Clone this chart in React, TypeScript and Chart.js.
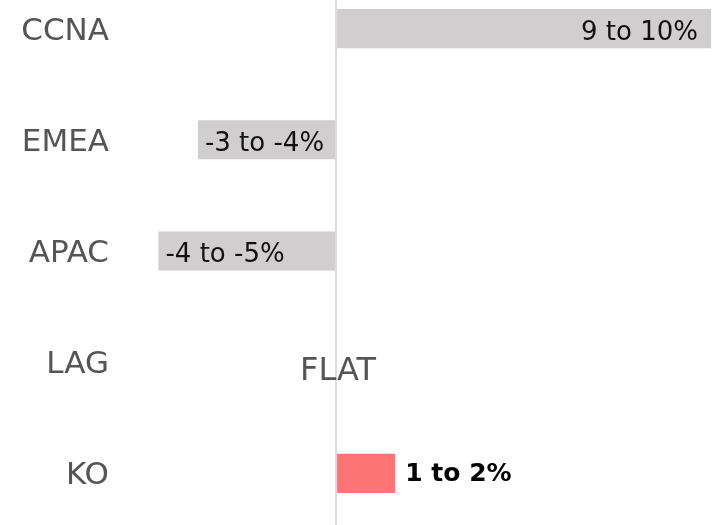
import React, { useEffect, useRef } from "react";
import { Chart, registerables } from "chart.js";

Chart.register(...registerables);

const categories = ["CCNA", "EMEA", "APAC", "LAG", "KO"];
const growthMid = [9.5, -3.5, -4.5, 0, 1.5];
const rangeLabels = ["9 to 10%", "-3 to -4%", "-4 to -5%", "FLAT", "1 to 2%"];
const barColors = ["#d0cecf", "#d0cecf", "#d0cecf", "#d0cecf", "#ff7474"];
const highlight = [false, false, false, false, true];
const axisMin = -5.5;
const axisMax = 9.5;

const FONT = "'DejaVu Sans', sans-serif";

const labelPlugin = {
  id: "rangeLabels",
  afterDatasetsDraw(chart: any) {
    const ctx = chart.ctx;
    const meta = chart.getDatasetMeta(0);
    ctx.save();
    meta.data.forEach((el: any, i: number) => {
      const v = growthMid[i];
      const text = rangeLabels[i];
      if (highlight[i]) {
        ctx.font = `bold 25px ${FONT}`;
        ctx.fillStyle = "#000000";
        ctx.textAlign = "left";
        ctx.textBaseline = "middle";
        ctx.fillText(text, el.x + 10, el.y + 1);
      } else if (v === 0) {
        ctx.font = `32px ${FONT}`;
        ctx.fillStyle = "#555555";
        ctx.textAlign = "center";
        ctx.textBaseline = "middle";
        ctx.fillText(text, el.x + 2, el.y + 9);
      } else if (v > 0) {
        ctx.font = `26px ${FONT}`;
        ctx.fillStyle = "#111111";
        ctx.textAlign = "right";
        ctx.textBaseline = "middle";
        ctx.fillText(text, el.x - 13, el.y + 5);
      } else {
        ctx.font = `26px ${FONT}`;
        ctx.fillStyle = "#111111";
        ctx.textAlign = "left";
        ctx.textBaseline = "middle";
        ctx.fillText(text, el.x + 7, el.y + 4);
      }
    });
    ctx.restore();
  },
};

export default function App() {
  const ref = useRef<HTMLCanvasElement | null>(null);
  useEffect(() => {
    if (!ref.current) return;
    const chart = new Chart(ref.current, {
      type: "bar",
      data: {
        labels: categories,
        datasets: [
          {
            data: growthMid,
            backgroundColor: barColors,
            borderWidth: 0,
            barPercentage: 0.352,
            categoryPercentage: 1,
          },
        ],
      },
      options: {
        indexAxis: "y",
        animation: false,
        responsive: false,
        maintainAspectRatio: false,
        devicePixelRatio: 1,
        layout: { padding: { left: 0, right: 4, top: 0, bottom: 0 } },
        plugins: {
          legend: { display: false },
          tooltip: { enabled: false },
        },
        scales: {
          x: {
            min: axisMin,
            max: axisMax,
            afterBuildTicks: (scale: any) => {
              scale.ticks = [{ value: 0 }];
            },
            ticks: { display: false },
            border: { display: false },
            grid: {
              drawTicks: false,
              color: "#dcdcdc",
              lineWidth: 2,
            },
          },
          y: {
            afterFit: (scale: any) => {
              scale.width = 119;
              scale.paddingTop = 0;
              scale.paddingBottom = 0;
            },
            border: { display: false },
            grid: { display: false, drawTicks: false },
            ticks: {
              padding: 10,
              labelOffset: 3,
              color: "#555555",
              font: { family: FONT, size: 31 },
            },
          },
        },
      },
      plugins: [labelPlugin],
    });
    return () => chart.destroy();
  }, []);
  return (
    <canvas
      ref={ref}
      width={715}
      height={556}
      style={{
        position: "fixed",
        top: -27,
        left: 0,
        width: 715,
        height: 556,
        background: "#ffffff",
      }}
    />
  );
}
